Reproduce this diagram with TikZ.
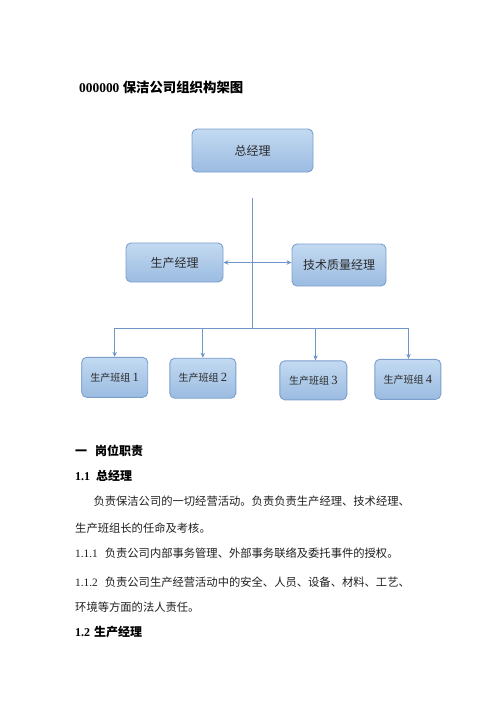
\documentclass[tikz,border=0pt]{standalone}
\usepackage{fontspec}
\setmainfont{Liberation Serif}
\newfontfamily\cjk{Noto Sans CJK SC}
\usetikzlibrary{arrows.meta}
\definecolor{boxtop}{HTML}{C3DAF1}
\definecolor{boxbot}{HTML}{9BBBE1}
\definecolor{boxline}{HTML}{7A9FCC}
\definecolor{conn}{HTML}{6F96C8}
\definecolor{boxtext}{HTML}{2A2A2A}
\tikzset{
  orgbox/.style={draw=boxline, line width=0.9pt, rounded corners=5pt,
    top color=boxtop, bottom color=boxbot, text=boxtext, inner sep=0pt,
    font=\cjk\fontsize{12}{14}\selectfont},
  grpbox/.style={orgbox, minimum width=66pt, minimum height=40pt,
    font=\cjk\fontsize{10}{12}\selectfont},
  conline/.style={draw=conn, line width=0.9pt},
  arr/.style={conline, -{Stealth[length=5pt,width=4.5pt]}},
  dblarr/.style={conline, {Stealth[length=5pt,width=4.5pt]}-{Stealth[length=5pt,width=4.5pt]}},
  bodytext/.style={anchor=west, inner sep=0pt, text=black!88,
    font=\fontsize{11.3}{13}\selectfont},
  headtext/.style={anchor=west, inner sep=0pt, text=black,
    font=\bfseries\fontsize{12}{14}\selectfont},
}
\newcommand\dg[1]{{\rmfamily\fontsize{12.5}{14}\selectfont #1}}
\begin{document}
\begin{tikzpicture}[x=1pt,y=-1pt]
\useasboundingbox (0,0) rectangle (496,702);
% title
\node[anchor=west, inner sep=0pt, font=\bfseries\fontsize{13.4}{15}\selectfont] (title) at (79,87)
  {000000 {\cjk\bfseries 保洁公司组织构架图}};
% boxes
\node[orgbox, minimum width=121pt, minimum height=43pt] (gm) at (252.5,150.5) {总经理};
\node[orgbox, minimum width=97pt, minimum height=39pt] (pm) at (174.5,262.5) {生产经理};
\node[orgbox, minimum width=94pt, minimum height=42pt] (tm) at (339,265) {技术质量经理};
\node[grpbox] (g1) at (114.7,377.3) {生产班组 \dg{1}};
\node[grpbox] (g2) at (202.8,378.2) {生产班组 \dg{2}};
\node[grpbox, minimum width=67pt, minimum height=39pt] (g3) at (313.3,380.3) {生产班组 \dg{3}};
\node[grpbox] (g4) at (407.8,379.3) {生产班组 \dg{4}};
% connectors
\coordinate (vtop) at (252,198);
\coordinate (vbot) at (252,328);
\coordinate (b1) at (114.7,328);
\coordinate (b2) at (202.8,328);
\coordinate (b3) at (315.5,328);
\coordinate (b4) at (408.5,328);
\draw[conline] (vtop) -- (vbot);
\draw[conline] (b1) -- (b4);
\draw[dblarr] (pm.east) -- (pm.east -| tm.west);
\draw[arr] (b1) -- (g1.north);
\draw[arr] (b2) -- (g2.north);
\draw[arr] (b3) -- (b3 |- g3.north);
\draw[arr] (b4) -- (b4 |- g4.north);
% body text
\node[headtext] (h1) at (75,451) {\cjk\bfseries 一\hspace{8pt}岗位职责};
\node[headtext] (h11) at (75,476) {1.1\hspace{6pt}{\cjk\bfseries 总经理}};
\node[bodytext] (p1) at (93.3,501) {\cjk 负责保洁公司的一切经营活动。负责负责生产经理、技术经理、};
\node[bodytext] (p2) at (75,527.7) {\cjk 生产班组长的任命及考核。};
\node[bodytext] (p3) at (75,553.3) {1.1.1\hspace{7pt}{\cjk 负责公司内部事务管理、外部事务联络及委托事件的授权。}};
\node[bodytext] (p4) at (75,581.7) {1.1.2\hspace{7pt}{\cjk 负责公司生产经营活动中的安全、人员、设备、材料、工艺、}};
\node[bodytext] (p5) at (75,606.7) {\cjk 环境等方面的法人责任。};
\node[headtext] (h12) at (75,631.7) {1.2\hspace{4pt}{\cjk\bfseries 生产经理}};
\end{tikzpicture}
\end{document}
